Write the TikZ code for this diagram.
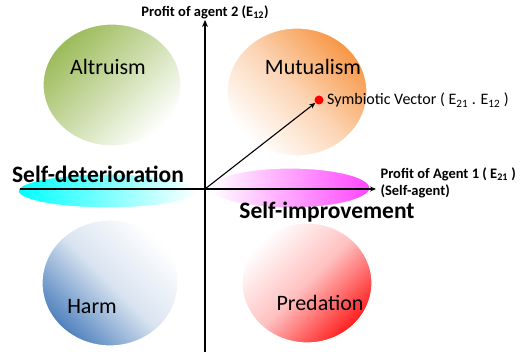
\documentclass[tikz,border=0pt]{standalone}
\usepackage{fontspec}
\setmainfont{Carlito}
\usetikzlibrary{arrows.meta}

\definecolor{altgreen}{RGB}{155,187,89}
\definecolor{mutorange}{RGB}{247,150,70}
\definecolor{harmblue}{RGB}{79,129,189}
\definecolor{predred}{RGB}{255,30,30}
\definecolor{detcyan}{RGB}{0,255,255}
\definecolor{impmagenta}{RGB}{255,70,255}

\tikzset{
	blob/.style={postaction={draw=white, line width=1.2pt}},
	quadlabel/.style={font=\fontsize{22}{24}\selectfont},
	zonelabel/.style={font=\bfseries\fontsize{23.5}{24}\selectfont},
	axislabel/.style={font=\bfseries\fontsize{14.5}{17}\selectfont, align=left},
	axisline/.style={line width=2.2pt, -{Stealth[length=7pt,width=6pt]}}
}

\begin{document}
\begin{tikzpicture}[x=1pt, y=-1pt]
	\useasboundingbox (0,0) rectangle (530,352);
	
	%korongok
	\shade[blob, top color=altgreen, bottom color=white, middle color=altgreen!50, shading angle=45] (112,85) ellipse [x radius=69pt, y radius=61pt];
	\shade[blob, top color=mutorange, bottom color=white, middle color=mutorange!40, shading angle=-45] (297,92) ellipse [x radius=70pt, y radius=64pt];
	\shade[blob, bottom color=harmblue, top color=white, middle color=harmblue!22, shading angle=-45] (110,283) ellipse [x radius=68pt, y radius=63pt];
	\shade[blob, bottom color=predred, top color=white, middle color=predred!28, shading angle=45] (307,283) ellipse [x radius=65pt, y radius=60pt];
	
	%sávok
	\shade[blob, left color=detcyan, right color=white] (108,191) ellipse [x radius=90pt, y radius=17pt];
	\shade[blob, left color=white, right color=impmagenta] (290,188) ellipse [x radius=80pt, y radius=20pt];
	
	%tengelyek
	\coordinate (O) at (205,189);
	\coordinate (xl) at (20,189);
	\coordinate (xr) at (376,189);
	\coordinate (yb) at (205,352);
	\coordinate (yt) at (205,20);
	\draw[line width=1.3pt, -{Stealth[length=6pt,width=5pt]}] (xl) -- (xr);
	\draw[axisline] (yb) -- (yt);
	
	%vektor
	\node[circle, fill=red, inner sep=0pt, minimum size=9pt] (dot) at (319,100) {};
	\draw[line width=1.1pt, -{Stealth[length=6pt,width=5pt]}] (O) -- (dot);
	
	%feliratok
	\node[quadlabel] (alt) at (108,67) {Altruism};
	\node[quadlabel] (mut) at (313,67) {Mutualism};
	\node[quadlabel] (harm) at (92,307) {Harm};
	\node[quadlabel] (pred) at (320,303) {Predation};
	\node[zonelabel] (det) at (98,174) {Self-deterioration};
	\node[zonelabel] (imp) at (327,212) {Self-improvement};
	
	\node[axislabel] (ylab) at (205,12) {Profit of agent 2 (E\textsubscript{12})};
	\node[axislabel, anchor=north west] (xlab) at (377,164) {Profit of Agent 1 ( E\textsubscript{21} )\\(Self-agent)};
	\node[anchor=west, font=\fontsize{16}{17}\selectfont] (vlab) at (dot.east) {Symbiotic Vector ( E\textsubscript{21} . E\textsubscript{12} )};
\end{tikzpicture}
\end{document}
